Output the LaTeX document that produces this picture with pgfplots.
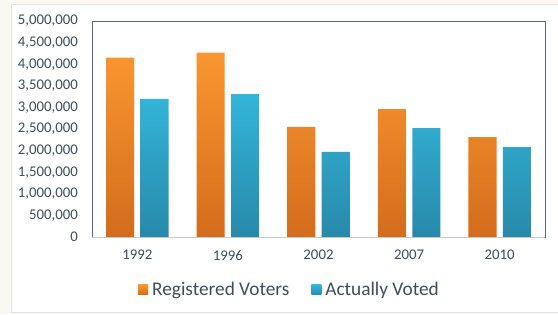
\documentclass[border=0pt]{standalone}
\usepackage{pgfplots}
\pgfplotsset{compat=1.18}
\usepackage{fontspec}
\setmainfont{Carlito}
\definecolor{bgcream}{HTML}{FBF8F1}
\definecolor{panelborder}{HTML}{DCE3EA}
\definecolor{ticktext}{HTML}{3E4D5C}
\definecolor{axisdark}{HTML}{5A6675}
\definecolor{axislight}{HTML}{C8C8C8}
\definecolor{orangetop}{HTML}{FA9630}
\definecolor{orangebot}{HTML}{D36C1C}
\definecolor{bluetop}{HTML}{33B5D9}
\definecolor{bluebot}{HTML}{2889AA}
\begin{document}
\begin{tikzpicture}[x=1pt,y=1pt]
\useasboundingbox (0,0) rectangle (558,314);
\fill[bgcream] (0,0) rectangle (558,314);
\fill[white,draw=panelborder] (11,2) rectangle (560,310);
\begin{axis}[
  at={(92pt,77pt)}, anchor=south west,
  scale only axis, width=453pt, height=216pt,
  ybar,
  bar width=0.31,
  xmin=-0.5, xmax=4.5, ymin=0, ymax=5000000,
  xtick={0,1,2,3,4},
  xticklabels={1992,1996,2002,2007,2010},
  ytick={0,500000,1000000,1500000,2000000,2500000,3000000,3500000,4000000,4500000,5000000},
  scaled y ticks=false,
  yticklabel style={/pgf/number format/fixed,/pgf/number format/1000 sep={,}},
  /pgf/number format/assume math mode=true,
  tick label style={font=\fontsize{14.8}{16}\selectfont, text=ticktext},
  major tick length=0pt,
  axis line style={axisdark, line width=0.8pt},
  yticklabel style={anchor=east, inner sep=0pt, xshift=-14pt},
  xticklabel style={anchor=north, inner sep=0pt, yshift=-13pt},
  legend style={at={(0.436,-0.245)}, anchor=center, draw=none, fill=none,
    legend columns=2, font=\fontsize{19.3}{21}\selectfont, text=ticktext,
    /tikz/every odd column/.append style={column sep=2pt},
    /tikz/every even column/.append style={column sep=20pt}},
  legend image code/.code={\path[#1] (0pt,-5pt) rectangle (10pt,5pt);},
]
\addplot[draw=none, top color=orangetop, bottom color=orangebot, bar shift=-0.19]
  coordinates {(0,4150000) (1,4270000) (2,2550000) (3,2960000) (4,2310000)};
\addplot[draw=none, top color=bluetop, bottom color=bluebot, bar shift=0.19]
  coordinates {(0,3200000) (1,3310000) (2,1970000) (3,2520000) (4,2080000)};
\legend{Registered Voters, Actually Voted}
\draw[axislight, line width=0.8pt] (rel axis cs:0,0) -- (rel axis cs:1,0);
\end{axis}
\end{tikzpicture}
\end{document}
